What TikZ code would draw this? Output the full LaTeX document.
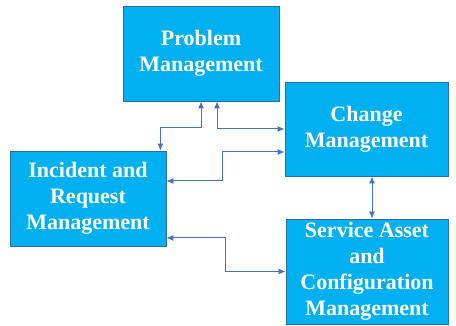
\documentclass[tikz,border=0pt]{standalone}
\usepackage{fontspec}
\setmainfont{Liberation Serif}
\usepackage{tikz}
\usetikzlibrary{arrows.meta,positioning,calc}
\definecolor{boxfill}{HTML}{00B0F0}
\definecolor{boxline}{HTML}{2E6DA4}
\definecolor{linkcol}{HTML}{4472C4}
\tikzset{>={Latex[length=7pt,width=6pt]}}
\tikzset{
  procbox/.style={draw=boxline,line width=0.8pt,fill=boxfill,text=white,
    align=center,inner sep=0pt,
    font=\fontsize{22}{26}\selectfont\bfseries},
  link/.style={draw=linkcol,line width=1pt,<->}
}

\begin{document}
\begin{tikzpicture}[x=1pt,y=-1pt]
    \useasboundingbox (0,0) rectangle (456,326);

    \node [procbox,minimum width=156pt,minimum height=95pt] (prob) at (201,53.5) {Problem\\Management};
    \node [procbox,minimum width=163pt,minimum height=94pt] (chg) at (366.5,129) {Change\\Management};
    \node [procbox,minimum width=156pt,minimum height=95pt] (inc) at (88,198.5) {Incident and\\Request\\Management};
    \node [procbox,minimum width=162pt,minimum height=105pt] (svc) at (367,271.5) {Service Asset\\and\\Configuration\\Management};

    \draw [link] (prob.south) -- ++(0,26) -| ([xshift=-6pt]inc.north east);
    \draw [link] ([xshift=16pt]prob.south) |- (chg.west);
    \draw [link] ([yshift=-23pt]chg.west) -- ++(-62,0) |- ([yshift=17.5pt]inc.east);
    \draw [link] ([yshift=-39.5pt]inc.east) -- ++(59,0) |- (svc.west);
    \draw [link] ([xshift=5.5pt]chg.south) -- ([xshift=5.5pt]chg.south |- svc.north);
\end{tikzpicture}
\end{document}
